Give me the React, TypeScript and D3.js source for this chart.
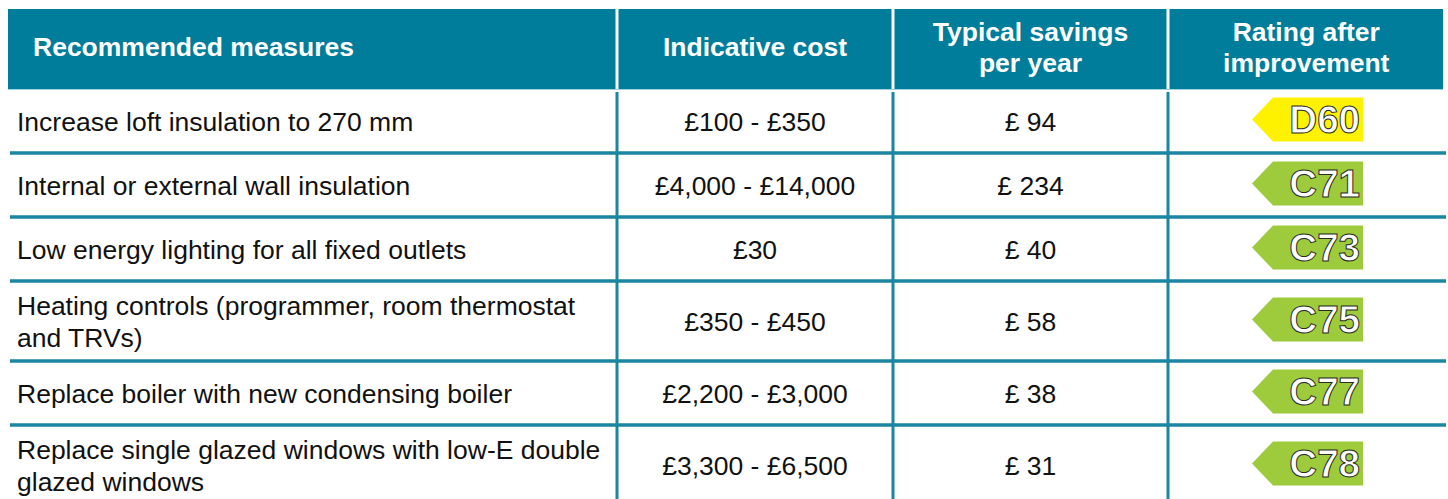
import React from 'react';
import * as d3 from 'd3';

const measures = [
  ['Increase loft insulation to 270 mm'],
  ['Internal or external wall insulation'],
  ['Low energy lighting for all fixed outlets'],
  ['Heating controls (programmer, room thermostat', 'and TRVs)'],
  ['Replace boiler with new condensing boiler'],
  ['Replace single glazed windows with low-E double', 'glazed windows'],
];
const costs = ['£100 - £350', '£4,000 - £14,000', '£30', '£350 - £450', '£2,200 - £3,000', '£3,300 - £6,500'];
const savings = ['£ 94', '£ 234', '£ 40', '£ 58', '£ 38', '£ 31'];
const ratings = ['D60', 'C71', 'C73', 'C75', 'C77', 'C78'];
const headers = [['Recommended measures'], ['Indicative cost'], ['Typical savings', 'per year'], ['Rating after', 'improvement']];

const W = 1448;
const H = 499;
const FONT = '"Liberation Sans", Arial, sans-serif';
const TEAL = '#007d9b';
const LINE = '#1a86a2';

const bandColor = d3.scaleOrdinal<string, string>().domain(['C', 'D']).range(['#9dcb3b', '#fff200']);

export default function App() {
  const left = 8;
  const right = 1443;
  const top = 9;
  const headerH = 80;
  // column edges
  const edges = [left, 617, 893, 1168, right];

  // row tops from number of text lines
  const heights = measures.map((m) => (m.length > 1 ? 80 : 64));
  const rowTops: number[] = [];
  let acc = top + headerH;
  heights.forEach((h) => {
    rowTops.push(acc);
    acc += h;
  });

  const lh = 31.5;
  const fs = 26.5;

  return (
    <svg width={W} height={H} style={{ position: 'absolute', left: 0, top: 0 }} fontFamily={FONT}>
      <rect width={W} height={H} fill="#fff" />
      {/* header */}
      {headers.map((hd, i) => {
        const x0 = edges[i] + (i === 0 ? 0 : 1.5);
        const x1 = edges[i + 1] - (i === 3 ? 0 : 1.5);
        const cy = top + headerH / 2 - 2.5;
        return (
          <g key={i}>
            <rect x={x0} y={top} width={x1 - x0} height={headerH} fill={TEAL} />
            {hd.map((t, j) => (
              <text
                key={j}
                x={i === 0 ? 33 : (x0 + x1) / 2}
                y={cy + (j - (hd.length - 1) / 2) * 31}
                dy="0.36em"
                textAnchor={i === 0 ? 'start' : 'middle'}
                fontSize={26.5}
                fontWeight="bold"
                fill="#fff"
              >
                {t}
              </text>
            ))}
          </g>
        );
      })}
      <line x1={left} x2={right} y1={top + headerH + 0.5} y2={top + headerH + 0.5} stroke="#9fd3e0" strokeWidth={1} />

      {/* body rows */}
      {measures.map((m, r) => {
        const y0 = rowTops[r];
        const cy = y0 + heights[r] / 2;
        const rating = ratings[r];
        const ax1 = 1363;
        const ax0 = 1252;
        const ah = 44;
        const tip = 21;
        const ay = cy - 1.5;
        const arrow = d3.line()([
          [ax0, ay],
          [ax0 + tip, ay - ah / 2],
          [ax1, ay - ah / 2],
          [ax1, ay + ah / 2],
          [ax0 + tip, ay + ah / 2],
          [ax0, ay],
        ]);
        return (
          <g key={r}>
            {m.map((t, j) => (
              <text key={j} x={17} y={cy + 0.5 + (j - (m.length - 1) / 2) * lh} dy="0.36em" fontSize={fs} fill="#111">
                {t}
              </text>
            ))}
            <text x={(edges[1] + edges[2]) / 2} y={cy} dy="0.36em" textAnchor="middle" fontSize={fs} fill="#111">
              {costs[r]}
            </text>
            <text x={(edges[2] + edges[3]) / 2} y={cy} dy="0.36em" textAnchor="middle" fontSize={fs} fill="#111">
              {savings[r]}
            </text>
            <path d={arrow || ''} fill={bandColor(rating[0])} />
            <text
              x={ax1 - 3}
              y={ay}
              dy="0.36em"
              textAnchor="end"
              fontSize={38.5}
              fontWeight="bold"
              fill="#fff"
              stroke="#2a2a2a"
              strokeWidth={1}
            >
              {rating}
            </text>
            {r > 0 && (
              <line x1={10} x2={1446} y1={y0} y2={y0} stroke={LINE} strokeWidth={3.5} />
            )}
          </g>
        );
      })}

      {/* vertical dividers */}
      {edges.slice(1, 4).map((x, i) => (
        <line key={i} x1={x} x2={x} y1={top + headerH + 3} y2={H} stroke={LINE} strokeWidth={3} />
      ))}
    </svg>
  );
}
